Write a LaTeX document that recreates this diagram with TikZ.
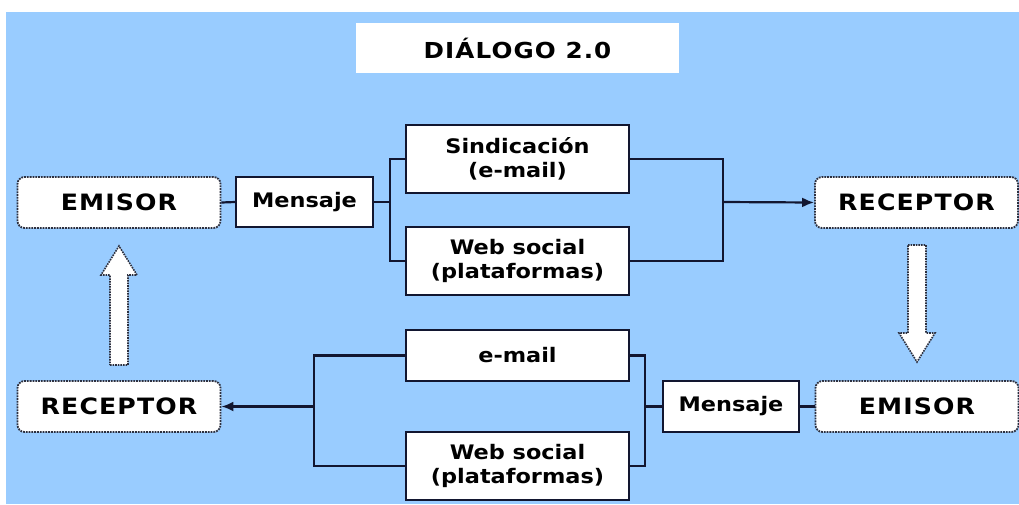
\documentclass[tikz,border=0pt]{standalone}
\usepackage{fontspec}
\usetikzlibrary{arrows.meta}
\setmainfont{DejaVu Sans}
\newfontfamily\bigfont[LetterSpace=5, FakeStretch=1.12]{DejaVu Sans}
\newfontfamily\smallfont[FakeStretch=1.12]{DejaVu Sans}
\definecolor{sky}{HTML}{99CCFF}
\definecolor{ink}{HTML}{121630}
\definecolor{rim}{HTML}{2C3040}
\tikzset{
  plainbox/.style={draw=ink, line width=1.8pt, fill=white, inner sep=0pt,
    font=\smallfont\bfseries\fontsize{20}{24.5}\selectfont, align=center},
  roundbox/.style={draw=rim, densely dotted, line width=1.8pt, fill=white,
    rounded corners=7pt, inner sep=0pt, minimum width=203pt, minimum height=51pt,
    font=\bigfont\bfseries\fontsize{22.5}{26}\selectfont},
  wire/.style={draw=ink, line width=2.2pt},
  tipwire/.style={wire, -{Latex[length=12pt,width=10pt]}},
  blockarrow/.style={draw=rim, densely dotted, line width=1.6pt, fill=white}
}
\begin{document}
\begin{tikzpicture}[x=1pt, y=-1pt]
  % page and backdrop
  \fill[white] (0,0) rectangle (1019,504);
  \fill[sky] (6,12) rectangle (1019,504);
  \useasboundingbox (0,0) rectangle (1019,504);

  % heading
  \node[fill=white, minimum width=323pt, minimum height=50pt, inner sep=0pt,
        font=\bigfont\bfseries\fontsize{22}{26}\selectfont] (title) at (517.5,48) {DIÁLOGO 2.0};

  % upper flow
  \node[roundbox] (emisA) at (119,202.5) {EMISOR};
  \node[plainbox, minimum width=137pt, minimum height=50pt] (mensA) at (304.5,202) {Mensaje};
  \node[plainbox, minimum width=223pt, minimum height=68pt] (sind) at (517.5,159) {Sindicación\\(e-mail)};
  \node[plainbox, minimum width=223pt, minimum height=68pt] (webA) at (517.5,261) {Web social\\(plataformas)};
  \node[roundbox] (recA) at (916.5,202.5) {RECEPTOR};

  % lower flow
  \node[roundbox] (recB) at (119,406.5) {RECEPTOR};
  \node[plainbox, minimum width=223pt, minimum height=51pt] (email) at (517.5,355.5) {e-mail};
  \node[plainbox, minimum width=223pt, minimum height=68pt] (webB) at (517.5,466) {Web social\\(plataformas)};
  \node[plainbox, minimum width=136pt, minimum height=51pt] (mensB) at (731,406.5) {Mensaje};
  \node[roundbox] (emisB) at (917,406.5) {EMISOR};

  % junction points of the brackets
  \coordinate (jA) at (390,202);
  \coordinate (jR) at (723,202);
  \coordinate (jB) at (314,406.5);
  \coordinate (jC) at (645,406.5);

  % upper connectors
  \draw[wire] (emisA.east) -- (mensA.west);
  \draw[wire] (mensA.east) -- (jA);
  \draw[wire] (sind.west) -| (jA) |- (webA.west);
  \draw[wire] (sind.east) -| (jR) |- (webA.east);
  \draw[tipwire] (jR) -- (recA.west);

  % lower connectors
  \draw[wire] (emisB.west) -- (mensB.east);
  \draw[wire] (mensB.west) -- (jC);
  \draw[wire] (email.east) -| (jC) |- (webB.east);
  \draw[wire] (email.west) -| (jB) |- (webB.west);
  \draw[tipwire] (jB) -- (recB.east);

  % hollow arrows between the two rows
  \draw[blockarrow] (908,245) -- (926,245) -- (926,333) -- (935,333)
        -- (917,362) -- (899,333) -- (908,333) -- cycle;
  \draw[blockarrow] (110,365) -- (128,365) -- (128,275) -- (137,275)
        -- (119,246) -- (101,275) -- (110,275) -- cycle;
\end{tikzpicture}
\end{document}
